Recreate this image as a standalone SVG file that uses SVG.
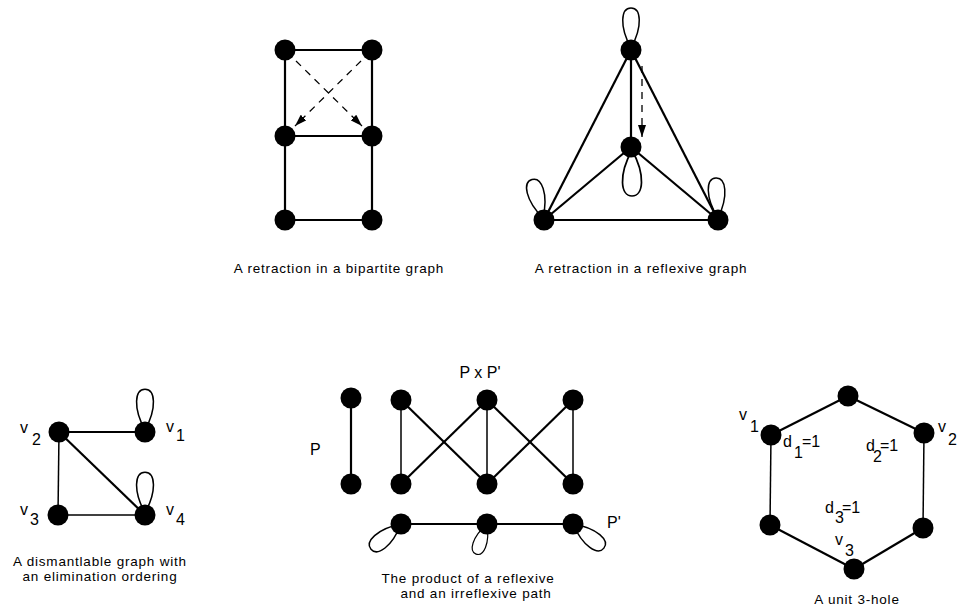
<svg xmlns="http://www.w3.org/2000/svg" width="964" height="610" viewBox="0 0 964 610">
<style>
.e{stroke:#000;stroke-width:2.2;fill:none}
.t{stroke:#000;stroke-width:1.5;fill:none}
.d{stroke:#000;stroke-width:1.3;fill:none;stroke-dasharray:7 6}
.n{fill:#000}
.lp{stroke:#000;stroke-width:1.5;fill:none}
text{font-family:"Liberation Sans",Arial,sans-serif;fill:#000}
.cap{font-size:13.5px;text-anchor:middle;letter-spacing:0.8px}
.lb{font-size:16px}
.sv{font-size:16px}
</style>
<defs>
<path id="loop" d="M0,0 C-12,-22 -10,-40 0,-40 C10,-40 12,-22 0,0"/>
<marker id="ah" viewBox="0 0 12 8" refX="12" refY="4" markerWidth="12" markerHeight="8" markerUnits="userSpaceOnUse" orient="auto">
<path d="M0,0 L12,4 L0,8 Z" fill="#000"/>
</marker>
</defs>

<g id="connectors">
<!-- bipartite -->
<line class="e" x1="285" y1="50" x2="372" y2="50"/>
<line class="e" x1="285" y1="50" x2="285" y2="220"/>
<line class="e" x1="372" y1="50" x2="372" y2="220"/>
<line class="e" x1="285" y1="136" x2="372" y2="136"/>
<line class="e" x1="285" y1="220" x2="372" y2="220"/>
<line class="d" x1="296" y1="61" x2="362" y2="126" marker-end="url(#ah)"/>
<line class="d" x1="361" y1="61" x2="295" y2="126" marker-end="url(#ah)"/>
<!-- reflexive -->
<line class="e" x1="631" y1="50" x2="544" y2="220"/>
<line class="e" x1="631" y1="50" x2="718" y2="220"/>
<line class="e" x1="631" y1="50" x2="631" y2="147"/>
<line class="e" x1="631" y1="147" x2="544" y2="220"/>
<line class="e" x1="631" y1="147" x2="718" y2="220"/>
<line class="e" x1="544" y1="220" x2="718" y2="220"/>
<line class="d" x1="642" y1="66" x2="642" y2="137" marker-end="url(#ah)"/>
<use href="#loop" class="lp" transform="translate(631,48)"/>
<use href="#loop" class="lp" transform="translate(632,150) rotate(180) scale(1.15)"/>
<use href="#loop" class="lp" transform="translate(543,218) rotate(-16)"/>
<use href="#loop" class="lp" transform="translate(718,218) rotate(-3)"/>
<!-- dismantlable -->
<line class="e" x1="59" y1="432" x2="145" y2="432"/>
<line class="e" x1="59" y1="432" x2="145" y2="515"/>
<line class="t" x1="59" y1="432" x2="58" y2="515"/>
<line class="t" x1="58" y1="515" x2="145" y2="515"/>
<use href="#loop" class="lp" transform="translate(145,430) scale(1.02)"/>
<use href="#loop" class="lp" transform="translate(145,513) scale(1.02)"/>
<!-- product -->
<line class="e" x1="351" y1="398" x2="351" y2="484"/>
<line class="t" x1="401" y1="400" x2="401" y2="484"/>
<line class="t" x1="487" y1="400" x2="487" y2="484"/>
<line class="t" x1="573" y1="400" x2="573" y2="484"/>
<line class="e" x1="401" y1="400" x2="487" y2="484"/>
<line class="e" x1="401" y1="484" x2="487" y2="400"/>
<line class="e" x1="487" y1="400" x2="573" y2="484"/>
<line class="e" x1="487" y1="484" x2="573" y2="400"/>
<line class="e" x1="401" y1="524" x2="573" y2="524"/>
<use href="#loop" class="lp" transform="translate(401,524) rotate(-130) scale(0.98)"/>
<use href="#loop" class="lp" transform="translate(487,524) rotate(-160) scale(0.8)"/>
<use href="#loop" class="lp" transform="translate(573,524) rotate(128) scale(0.98)"/>
<!-- hexagon -->
<line class="e" x1="848" y1="396" x2="771" y2="435"/>
<line class="e" x1="848" y1="396" x2="924" y2="433"/>
<line class="t" x1="771" y1="435" x2="770" y2="525"/>
<line class="t" x1="924" y1="433" x2="923" y2="528"/>
<line class="e" x1="770" y1="525" x2="854" y2="569"/>
<line class="e" x1="854" y1="569" x2="923" y2="528"/>
</g>

<g id="bipartite">
<circle class="n" cx="285" cy="50" r="10.5"/>
<circle class="n" cx="372" cy="50" r="10.5"/>
<circle class="n" cx="285" cy="136" r="10.5"/>
<circle class="n" cx="372" cy="136" r="10.5"/>
<circle class="n" cx="285" cy="220" r="10.5"/>
<circle class="n" cx="372" cy="220" r="10.5"/>
<text class="cap" x="339" y="273">A retraction in a bipartite graph</text>
</g>

<g id="reflexive">
<circle class="n" cx="631" cy="50" r="10.5"/>
<circle class="n" cx="631" cy="147" r="10.5"/>
<circle class="n" cx="544" cy="220" r="10.5"/>
<circle class="n" cx="718" cy="220" r="10.5"/>
<text class="cap" x="641" y="273">A retraction in a reflexive graph</text>
</g>

<g id="dismantlable">
<circle id="v1" class="n" cx="145" cy="432" r="10.5"/>
<circle id="v2" class="n" cx="59" cy="432" r="10.5"/>
<circle id="v3" class="n" cx="58" cy="515" r="10.5"/>
<circle id="v4" class="n" cx="145" cy="515" r="10.5"/>
<text class="sv" x="20" y="433">v</text><text class="lb" x="32" y="445">2</text>
<text class="sv" x="166" y="432">v</text><text class="lb" x="176" y="441">1</text>
<text class="sv" x="20" y="515">v</text><text class="lb" x="30" y="525">3</text>
<text class="sv" x="166" y="515">v</text><text class="lb" x="176" y="525">4</text>
<text class="cap" x="100" y="566">A dismantlable graph with</text>
<text class="cap" x="100" y="581">an elimination ordering</text>
</g>

<g id="product">
<circle class="n" cx="351" cy="398" r="10.5"/>
<circle class="n" cx="351" cy="484" r="10.5"/>
<circle class="n" cx="401" cy="400" r="10.5"/>
<circle class="n" cx="487" cy="400" r="10.5"/>
<circle class="n" cx="573" cy="400" r="10.5"/>
<circle class="n" cx="401" cy="484" r="10.5"/>
<circle class="n" cx="487" cy="484" r="10.5"/>
<circle class="n" cx="573" cy="484" r="10.5"/>
<circle class="n" cx="401" cy="524" r="10.5"/>
<circle class="n" cx="487" cy="524" r="10.5"/>
<circle class="n" cx="573" cy="524" r="10.5"/>
<text class="lb" x="480" y="378" text-anchor="middle">P x P'</text>
<text class="lb" x="310" y="455">P</text>
<text class="lb" x="607" y="528">P'</text>
<text class="cap" x="468" y="583">The product of a reflexive</text>
<text class="cap" x="476" y="598">and an irreflexive path</text>
</g>

<g id="hole">
<circle class="n" cx="848" cy="396" r="10.5"/>
<circle class="n" cx="771" cy="435" r="10.5"/>
<circle class="n" cx="924" cy="433" r="10.5"/>
<circle class="n" cx="770" cy="525" r="10.5"/>
<circle class="n" cx="923" cy="528" r="10.5"/>
<circle class="n" cx="854" cy="569" r="10.5"/>
<text class="sv" x="739" y="420">v</text><text class="lb" x="750" y="432">1</text>
<text class="sv" x="938" y="432">v</text><text class="lb" x="948" y="445">2</text>
<text class="sv" x="835" y="545">v</text><text class="lb" x="845" y="556">3</text>
<text class="lb" x="783" y="447">d</text><text class="lb" x="794" y="458">1</text><text class="lb" x="802" y="447">=1</text>
<text class="lb" x="866" y="451">d</text><text class="lb" x="873" y="462">2</text><text class="lb" x="880" y="451">=1</text>
<text class="lb" x="825" y="513">d</text><text class="lb" x="835" y="523">3</text><text class="lb" x="842" y="513">=1</text>
<text class="cap" x="857" y="604">A unit 3-hole</text>
</g>
</svg>
